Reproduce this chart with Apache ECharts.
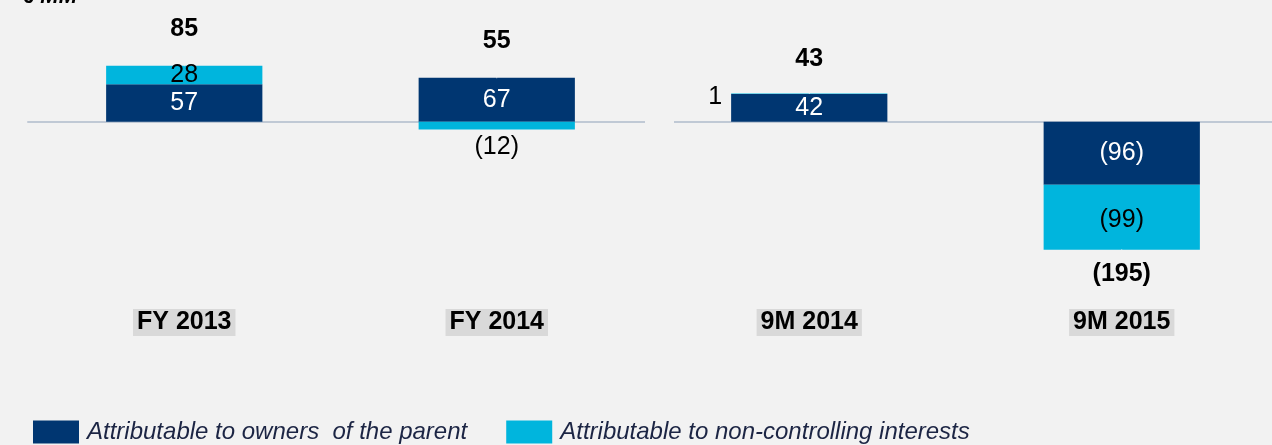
<!DOCTYPE html>
<html>
<head>
<meta charset="utf-8">
<script src="https://cdn.jsdelivr.net/npm/echarts@6/dist/echarts.min.js"></script>
<style>
  html, body { margin: 0; padding: 0; background: #f2f2f2; overflow: hidden; }
  #chart { width: 1272px; height: 445px; }
</style>
</head>
<body>
<div id="chart"></div>
<script>
// ---- data ----
var categories = ['FY 2013', 'FY 2014', '9M 2014', '9M 2015'];
var ownersValues = [57, 67, 42, -96];
var nciValues = [28, -12, 1, -99];
var totalValues = [85, 55, 43, -195];
var seriesNames = ['Attributable to owners  of the parent', 'Attributable to non-controlling interests'];
var unitLabel = '€ MM';

// ---- styles ----
var NAVY = '#003671';
var CYAN = '#00b5dd';
var FONT = '"Liberation Sans", Arial, sans-serif';

function fmt(v) { return v < 0 ? '(' + Math.abs(v) + ')' : String(v); }

// label placement for the non-controlling segments (style only)
var nciLabelStyles = [
  { position: 'inside', color: '#000' },
  { position: 'bottom', color: '#000', distance: 5 },
  { position: 'left', color: '#000', distance: 9, offset: [0, 3] },
  { position: 'inside', color: '#000', offset: [0, 3] }
];

var nciData = nciValues.map(function (v, i) {
  return { value: v, label: nciLabelStyles[i] };
});

// total label anchor = end of stack in the sign of the total
var totalData = totalValues.map(function (t, i) {
  var a = ownersValues[i], b = nciValues[i];
  var pos = (a > 0 ? a : 0) + (b > 0 ? b : 0);
  var neg = (a < 0 ? a : 0) + (b < 0 ? b : 0);
  return {
    value: t >= 0 ? pos : neg,
    label: t >= 0 ? { position: 'top', distance: i === 2 ? 21 : 24 } : { position: 'bottom', distance: 11 },
    total: t
  };
});

var chart = echarts.init(document.getElementById('chart'), null, { renderer: 'canvas' });

var option = {
  backgroundColor: '#f2f2f2',
  animation: false,
  title: {
    text: unitLabel,
    left: 17,
    top: -19,
    textStyle: { fontFamily: FONT, fontSize: 22, fontStyle: 'italic', fontWeight: 'bold', color: '#000' }
  },
  legend: {
    data: seriesNames,
    left: 33,
    top: 420,
    padding: 0,
    itemWidth: 46,
    itemHeight: 23,
    itemGap: 39,
    icon: 'rect',
    textStyle: { fontFamily: FONT, fontSize: 24, fontStyle: 'italic', color: '#1c2544', padding: [0, 0, 0, 3] }
  },
  grid: {
    left: 28,
    top: 56,
    width: 1250,
    height: 197,
    containLabel: false,
    outerBoundsMode: 'none'
  },
  xAxis: {
    type: 'category',
    data: categories,
    axisLine: { show: true, onZero: true, lineStyle: { color: '#c0c9d5', width: 2 } },
    axisTick: { show: false },
    axisLabel: {
      margin: 56,
      fontFamily: FONT,
      fontSize: 25,
      fontWeight: 'bold',
      color: '#000',
      backgroundColor: '#d9d9d9',
      padding: [1, 4, 1, 4],
      lineHeight: 25
    },
    splitLine: { show: false }
  },
  yAxis: {
    type: 'value',
    min: -200,
    max: 100,
    show: false,
    splitLine: { show: false }
  },
  graphic: [
    { type: 'rect', shape: { x: 645, y: 118, width: 29, height: 7 }, style: { fill: '#f2f2f2' }, z: 100 }
  ],
  series: [
    {
      name: seriesNames[0],
      type: 'bar',
      stack: 'total',
      barWidth: '50%',
      data: ownersValues,
      itemStyle: { color: NAVY },
      label: {
        show: true,
        position: 'inside',
        color: '#fff',
        fontFamily: FONT,
        fontSize: 25,
        formatter: function (p) { return fmt(p.value); }
      }
    },
    {
      name: seriesNames[1],
      type: 'bar',
      stack: 'total',
      barWidth: '50%',
      data: nciData,
      itemStyle: { color: CYAN },
      label: {
        show: true,
        fontFamily: FONT,
        fontSize: 25,
        formatter: function (p) { return fmt(p.value); }
      }
    },
    {
      name: 'Total',
      type: 'scatter',
      data: totalData,
      symbolSize: 1,
      itemStyle: { color: '#f2f2f2', opacity: 1 },
      silent: true,
      z: 10,
      label: {
        show: true,
        color: '#000',
        opacity: 1,
        fontFamily: FONT,
        fontSize: 25,
        fontWeight: 'bold',
        formatter: function (p) { return fmt(p.data.total); }
      }
    }
  ]
};

chart.setOption(option);
</script>
</body>
</html>
